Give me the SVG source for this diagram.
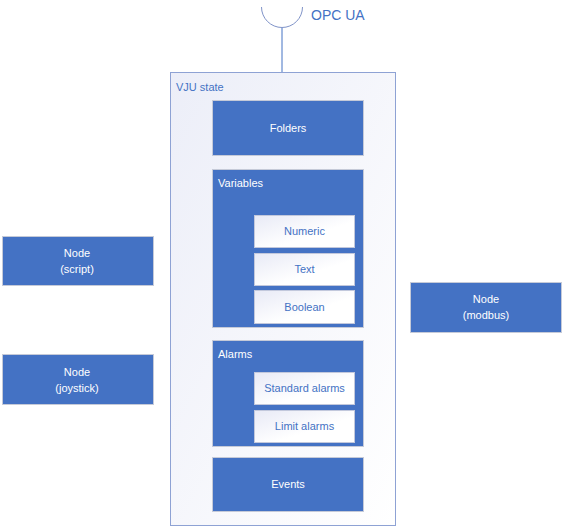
<svg xmlns="http://www.w3.org/2000/svg" width="563" height="529" viewBox="0 0 563 529">
<defs>
<linearGradient id="gc" x1="0" y1="0" x2="1" y2="1">
<stop offset="0" stop-color="#eceef8"/>
<stop offset="1" stop-color="#ffffff"/>
</linearGradient>
<linearGradient id="gw" x1="0" y1="0" x2="1" y2="1">
<stop offset="0" stop-color="#e8eaf6"/>
<stop offset="0.6" stop-color="#ffffff"/>
<stop offset="1" stop-color="#ffffff"/>
</linearGradient>
<style>
text{font-family:"Segoe UI","Liberation Sans","DejaVu Sans",sans-serif;font-size:11px;}
.blue{fill:#4472c4;stroke:#c5cad8;stroke-width:1;}
.white{fill:url(#gw);stroke:#c2c8dc;stroke-width:1;}
.wt{fill:#ffffff;text-anchor:middle;}
.bt{fill:#4472c4;text-anchor:middle;}
.lt{fill:#ffffff;}
</style>
</defs>
<g id="connectors">
<path d="M261.5,7 A20.5,20.5 0 0 0 302.5,7" fill="none" stroke="#7f93c8" stroke-width="1"/>
<line x1="282" y1="28" x2="282" y2="72" stroke="#4472c4" stroke-width="1"/>
<text x="311" y="20" style="font-size:14px;fill:#4472c4;">OPC UA</text>
</g>
<g id="vju-state">
<rect x="170.5" y="72.5" width="225" height="453" fill="url(#gc)" stroke="#8ea2d4" stroke-width="1"/>
<text x="176" y="91" style="fill:#4472c4;">VJU state</text>
</g>
<g id="folders">
<rect class="blue" x="212.5" y="100.5" width="151" height="55"/>
<text class="wt" x="288" y="132">Folders</text>
</g>
<g id="variables">
<rect class="blue" x="212.5" y="169.5" width="151" height="158"/>
<text class="lt" x="218" y="187">Variables</text>
</g>
<g id="numeric">
<rect class="white" x="254.5" y="215.5" width="100" height="32"/>
<text class="bt" x="304.5" y="235">Numeric</text>
</g>
<g id="text">
<rect class="white" x="254.5" y="253.5" width="100" height="32"/>
<text class="bt" x="304.5" y="273">Text</text>
</g>
<g id="boolean">
<rect class="white" x="254.5" y="290.5" width="100" height="33"/>
<text class="bt" x="304.5" y="311">Boolean</text>
</g>
<g id="alarms">
<rect class="blue" x="212.5" y="340.5" width="151" height="106"/>
<text class="lt" x="218" y="358">Alarms</text>
</g>
<g id="standard-alarms">
<rect class="white" x="254.5" y="372.5" width="100" height="32"/>
<text class="bt" x="304.5" y="392">Standard alarms</text>
</g>
<g id="limit-alarms">
<rect class="white" x="254.5" y="410.5" width="100" height="32"/>
<text class="bt" x="304.5" y="430">Limit alarms</text>
</g>
<g id="events">
<rect class="blue" x="212.5" y="457.5" width="151" height="54"/>
<text class="wt" x="288" y="488">Events</text>
</g>
<g id="node-script">
<rect class="blue" x="2.5" y="236.5" width="151" height="49"/>
<text class="wt" x="77" y="257">Node</text>
<text class="wt" x="77" y="273">(script)</text>
</g>
<g id="node-joystick">
<rect class="blue" x="2.5" y="354.5" width="151" height="50"/>
<text class="wt" x="77" y="376">Node</text>
<text class="wt" x="77" y="392">(joystick)</text>
</g>
<g id="node-modbus">
<rect class="blue" x="410.5" y="282.5" width="151" height="50"/>
<text class="wt" x="486" y="303">Node</text>
<text class="wt" x="486" y="319">(modbus)</text>
</g>
</svg>
